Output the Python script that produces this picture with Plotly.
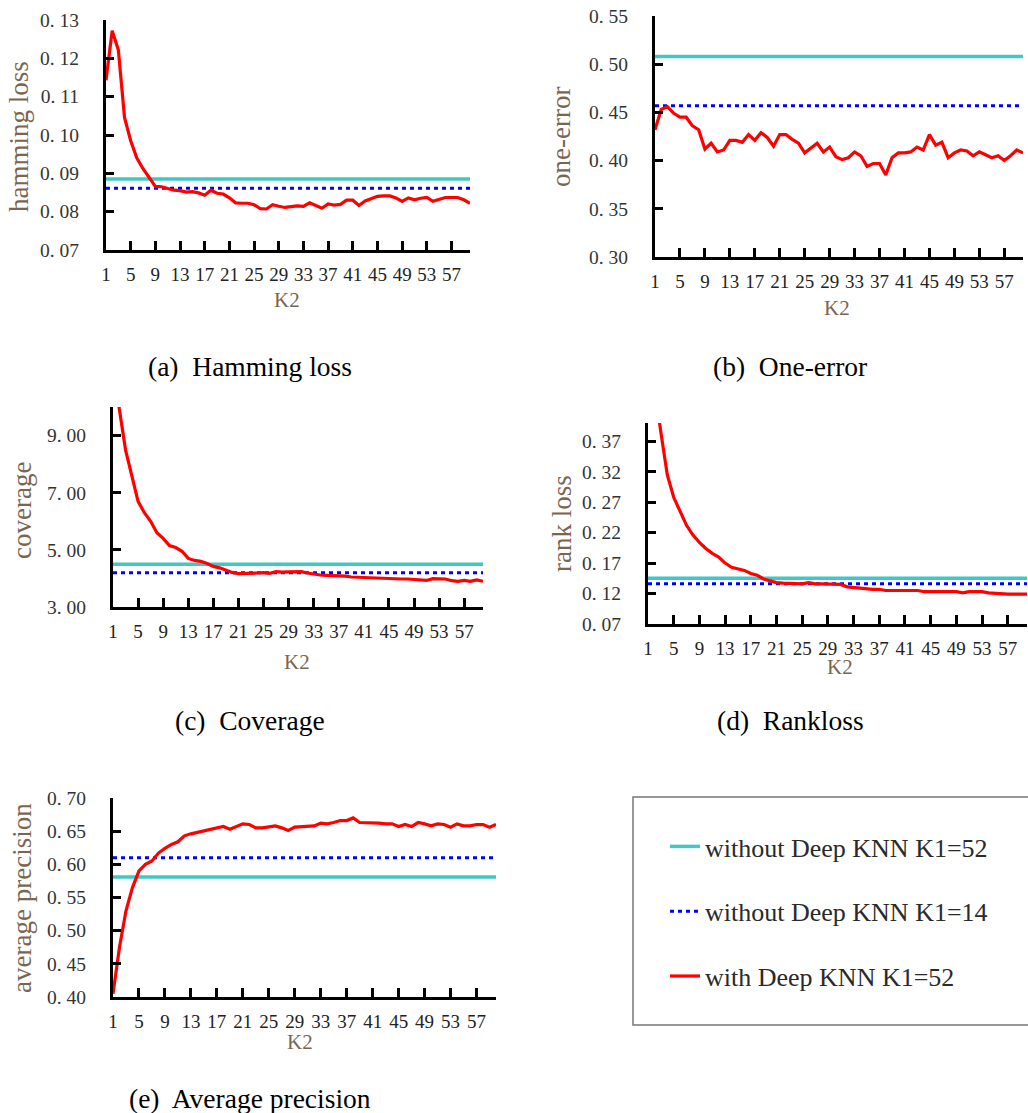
import plotly.graph_objects as go

W, H = 1028, 1113

K2 = list(range(1, 61))

hamming_deep = [0.1143, 0.1272, 0.1222, 0.1046, 0.0985, 0.0940, 0.0912, 0.0890, 0.0866, 0.0865,
                0.0860, 0.0856, 0.0855, 0.0851, 0.0852, 0.0849, 0.0843, 0.0856, 0.0848, 0.0846,
                0.0836, 0.0823, 0.0822, 0.0822, 0.0818, 0.0808, 0.0807, 0.0818, 0.0814, 0.0811,
                0.0813, 0.0815, 0.0814, 0.0823, 0.0816, 0.0809, 0.0820, 0.0817, 0.0819, 0.0830,
                0.0830, 0.0816, 0.0828, 0.0834, 0.0840, 0.0841, 0.0841, 0.0836, 0.0827, 0.0836,
                0.0831, 0.0835, 0.0837, 0.0827, 0.0833, 0.0837, 0.0837, 0.0837, 0.0831, 0.0822]

oneerror_deep = [0.432, 0.453, 0.456, 0.449, 0.445, 0.445, 0.436, 0.432, 0.412, 0.418,
                 0.409, 0.411, 0.421, 0.421, 0.419, 0.427, 0.421, 0.429, 0.424, 0.415,
                 0.427, 0.427, 0.422, 0.418, 0.408, 0.413, 0.418, 0.409, 0.414, 0.404,
                 0.401, 0.403, 0.409, 0.405, 0.394, 0.397, 0.397, 0.385, 0.403, 0.408,
                 0.408, 0.409, 0.414, 0.411, 0.427, 0.416, 0.419, 0.403, 0.408, 0.411,
                 0.410, 0.405, 0.409, 0.406, 0.403, 0.405, 0.400, 0.405, 0.411, 0.408]

coverage_deep = [12.0, 9.95, 8.50, 7.55, 6.70, 6.30, 6.00, 5.60, 5.40, 5.15,
                 5.08, 4.95, 4.70, 4.63, 4.60, 4.52, 4.42, 4.37, 4.30, 4.21,
                 4.17, 4.17, 4.17, 4.19, 4.20, 4.18, 4.24, 4.22, 4.23, 4.24,
                 4.24, 4.19, 4.15, 4.12, 4.11, 4.10, 4.10, 4.08, 4.05, 4.04,
                 4.03, 4.03, 4.02, 4.00, 3.98, 3.98, 3.98, 3.98, 3.97, 3.96,
                 3.93, 3.99, 3.98, 3.98, 3.92, 3.90, 3.93, 3.90, 3.95, 3.90]

rankloss_deep = [0.550, 0.460, 0.385, 0.315, 0.278, 0.255, 0.232, 0.216, 0.204, 0.194,
                 0.186, 0.180, 0.170, 0.163, 0.161, 0.158, 0.153, 0.150, 0.144, 0.141,
                 0.138, 0.137, 0.137, 0.137, 0.136, 0.138, 0.136, 0.136, 0.136, 0.136,
                 0.135, 0.131, 0.130, 0.129, 0.127, 0.127, 0.127, 0.125, 0.125, 0.125,
                 0.125, 0.125, 0.125, 0.123, 0.123, 0.123, 0.123, 0.123, 0.123, 0.121,
                 0.123, 0.123, 0.123, 0.121, 0.120, 0.119, 0.119, 0.119, 0.119, 0.119]

avgprec_deep = [0.405, 0.475, 0.530, 0.565, 0.590, 0.600, 0.605, 0.617, 0.624, 0.630,
                0.634, 0.643, 0.646, 0.648, 0.650, 0.653, 0.655, 0.657, 0.653, 0.657,
                0.661, 0.660, 0.655, 0.655, 0.657, 0.658, 0.655, 0.651, 0.656, 0.657,
                0.658, 0.658, 0.662, 0.661, 0.663, 0.666, 0.666, 0.670, 0.663, 0.663,
                0.662, 0.662, 0.661, 0.661, 0.657, 0.660, 0.657, 0.663, 0.661, 0.658,
                0.661, 0.660, 0.656, 0.661, 0.658, 0.658, 0.660, 0.660, 0.656, 0.660]

# constant baselines (without Deep KNN), per metric: hamming, one-error, coverage, rankloss, avg precision
base_k1_52 = [0.0885, 0.508, 4.50, 0.145, 0.581]
base_k1_14 = [0.0861, 0.457, 4.20, 0.136, 0.610]

y_titles = ["hamming loss", "one-error", "coverage", "rank loss", "average precision"]
captions = ["(a)\u00a0 Hamming loss", "(b)\u00a0 One-error", "(c)\u00a0 Coverage",
            "(d)\u00a0 Rankloss", "(e)\u00a0 Average precision"]
series_names = ["without Deep KNN K1=52", "without Deep KNN K1=14", "with Deep KNN K1=52"]

y_ranges = [[0.07, 0.13], [0.30, 0.55], [3, 10], [0.07, 0.40], [0.40, 0.70]]
y_ticks = [[0.07, 0.08, 0.09, 0.10, 0.11, 0.12, 0.13],
           [0.30, 0.35, 0.40, 0.45, 0.50, 0.55],
           [3, 5, 7, 9],
           [0.07, 0.12, 0.17, 0.22, 0.27, 0.32, 0.37],
           [0.40, 0.45, 0.50, 0.55, 0.60, 0.65, 0.70]]
y_ticktext = [["0. 07", "0. 08", "0. 09", "0. 10", "0. 11", "0. 12", "0. 13"],
              ["0. 30", "0. 35", "0. 40", "0. 45", "0. 50", "0. 55"],
              ["3. 00", "5. 00", "7. 00", "9. 00"],
              ["0. 07", "0. 12", "0. 17", "0. 22", "0. 27", "0. 32", "0. 37"],
              ["0. 40", "0. 45", "0. 50", "0. 55", "0. 60", "0. 65", "0. 70"]]
x_tickvals = [1, 5, 9, 13, 17, 21, 25, 29, 33, 37, 41, 45, 49, 53, 57, 60]
x_ticktext = ["1", "5", "9", "13", "17", "21", "25", "29", "33", "37", "41", "45", "49", "53", "57", ""]

deep_series = [hamming_deep, oneerror_deep, coverage_deep, rankloss_deep, avgprec_deep]

# panel pixel boxes: (x0, x1, ytop, ybottom)
boxes = [(106, 470, 20, 250), (655, 1023, 16, 257), (113, 483, 407, 607),
         (648, 1027, 423, 624), (113, 496, 798, 997)]
ytitle_pos = [(19, 137), (561, 137), (22, 511), (562, 524), (22, 898)]
k2_pos = [(287, 300), (837, 308), (297, 662), (840, 667), (300, 1042)]
caption_pos = [(250, 367), (790, 367), (250, 720), (790, 720), (250, 1098)]

CYAN = "#40C8C4"
BLUE = "#0000FF"
RED = "#FF0000"
TITLE_COL = "#7a6650"
SERIF = "Liberation Serif, DejaVu Serif, serif"

fig = go.Figure()
layout = dict(width=W, height=H, autosize=False, margin=dict(l=0, r=0, t=0, b=0, pad=0),
              paper_bgcolor="white", plot_bgcolor="white", showlegend=True)
annotations = []

for i in range(5):
    xa = "x" if i == 0 else f"x{i+1}"
    ya = "y" if i == 0 else f"y{i+1}"
    first = (i == 0)
    n = len(K2)
    fig.add_trace(go.Scatter(x=K2, y=[base_k1_52[i]] * n, mode="lines", name=series_names[0],
                             line=dict(color=CYAN, width=3.5), xaxis=xa, yaxis=ya,
                             showlegend=first, legendgroup="g1"))
    fig.add_trace(go.Scatter(x=K2, y=[base_k1_14[i]] * n, mode="lines", name=series_names[1],
                             line=dict(color=BLUE, width=3, dash="4px,4px"), xaxis=xa, yaxis=ya,
                             showlegend=first, legendgroup="g2"))
    fig.add_trace(go.Scatter(x=K2, y=deep_series[i], mode="lines", name=series_names[2],
                             line=dict(color=RED, width=3.2), xaxis=xa, yaxis=ya,
                             showlegend=first, legendgroup="g3"))
    x0, x1, yt, yb = boxes[i]
    kx = "xaxis" if i == 0 else f"xaxis{i+1}"
    ky = "yaxis" if i == 0 else f"yaxis{i+1}"
    layout[kx] = dict(domain=[x0 / W, x1 / W], anchor=ya, range=[1, 60], automargin=False,
                      tickmode="array", tickvals=x_tickvals, ticktext=x_ticktext,
                      ticks="inside", ticklen=9, tickwidth=3, tickcolor="black",
                      showline=True, linecolor="black", linewidth=3, showgrid=False,
                      zeroline=False, ticklabelstandoff=5,
                      tickfont=dict(family=SERIF, size=19, color="#222222"))
    layout[ky] = dict(domain=[1 - yb / H, 1 - yt / H], anchor=xa, range=y_ranges[i],
                      automargin=False,
                      tickmode="array", tickvals=y_ticks[i], ticktext=y_ticktext[i],
                      ticks="inside", ticklen=8, tickwidth=3, tickcolor="black",
                      showline=True, linecolor="black", linewidth=3, showgrid=False,
                      zeroline=False, ticklabelstandoff=20,
                      tickfont=dict(family=SERIF, size=19.5, color="#333333"))
    tx, ty = ytitle_pos[i]
    annotations.append(dict(text=y_titles[i], x=tx / W, y=1 - ty / H, xref="paper", yref="paper",
                            showarrow=False, textangle=-90, xanchor="center", yanchor="middle",
                            font=dict(family=SERIF, size=27, color=TITLE_COL)))
    kx_, ky_ = k2_pos[i]
    annotations.append(dict(text="K2", x=kx_ / W, y=1 - ky_ / H, xref="paper", yref="paper",
                            showarrow=False, xanchor="center", yanchor="middle",
                            font=dict(family=SERIF, size=21, color=TITLE_COL)))
    cx, cy = caption_pos[i]
    annotations.append(dict(text=captions[i], x=cx / W, y=1 - cy / H, xref="paper", yref="paper",
                            showarrow=False, xanchor="center", yanchor="middle",
                            font=dict(family=SERIF, size=27.5, color="black")))

layout["annotations"] = annotations
layout["shapes"] = [dict(type="rect", xref="paper", yref="paper",
                         x0=633 / W, x1=1030 / W, y0=1 - 1025 / H, y1=1 - 797 / H,
                         line=dict(color="#777777", width=1.5), fillcolor="rgba(0,0,0,0)")]
layout["legend"] = dict(x=665 / W, y=1 - 823 / H, xanchor="left", yanchor="top",
                        bgcolor="rgba(0,0,0,0)", borderwidth=0,
                        font=dict(family=SERIF, size=26, color="#2a2a2a"),
                        traceorder="grouped", tracegroupgap=28, itemwidth=30)

fig.update_layout(**layout)
fig.write_html("out.html", config={"displayModeBar": False},
               post_script="document.body.style.margin='0px';document.body.style.overflow='hidden';")
